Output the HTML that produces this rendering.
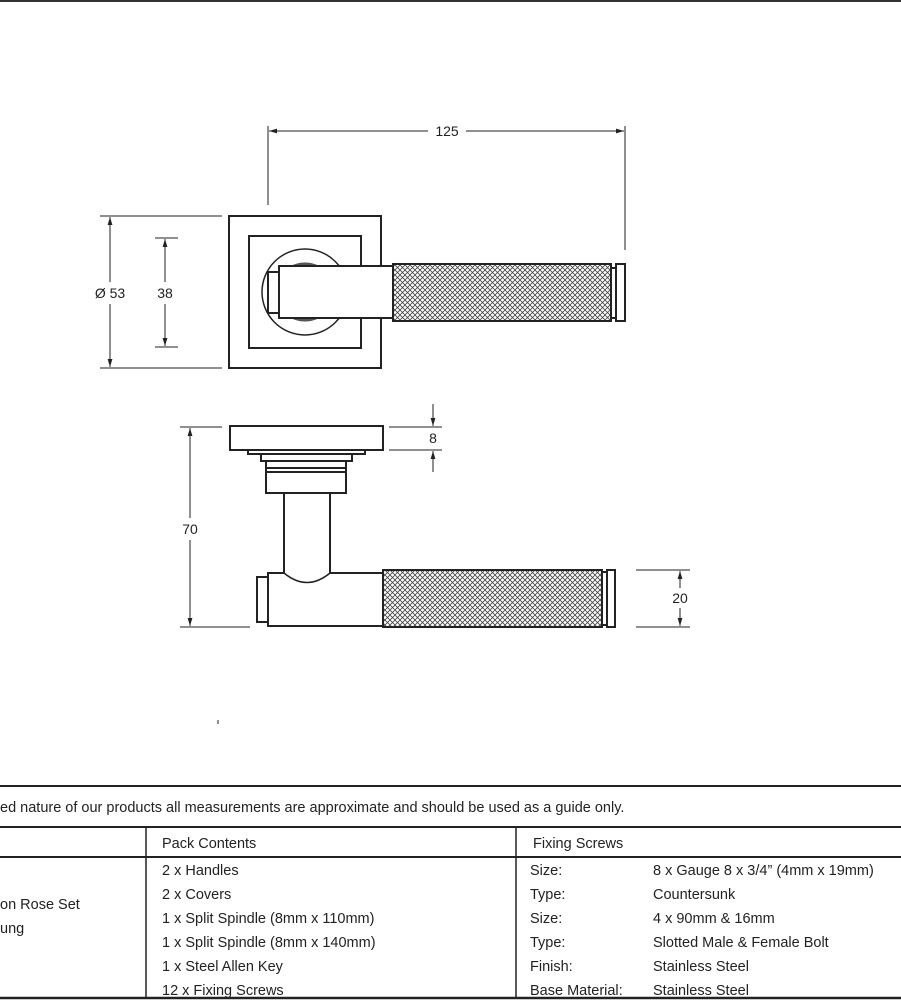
<!DOCTYPE html><html><head><style>body{margin:0;background:#fff}svg{display:block}text{font-family:"Liberation Sans",sans-serif;fill:#222}</style></head><body>
<svg width="901" height="1001" viewBox="0 0 901 1001" xmlns="http://www.w3.org/2000/svg">
<defs>
<pattern id="k" width="5" height="5" patternUnits="userSpaceOnUse"><rect width="5" height="5" fill="#fff"/><path d="M0 0L5 5M5 0L0 5" stroke="#444" stroke-width="0.8"/></pattern>
<marker id="a" viewBox="0 0 10 10" refX="10" refY="5" markerWidth="8" markerHeight="8" orient="auto-start-reverse"><path d="M0 2L10 5L0 8z" fill="#222"/></marker>
</defs>
<rect x="0" y="0" width="901" height="2" fill="#333"/>
<g fill="none" stroke="#222" stroke-width="2">
<rect x="229" y="216" width="152" height="152"/>
<rect x="249" y="236" width="112" height="112"/>
<circle cx="305" cy="292" r="43" stroke-width="1.5"/>
<circle cx="305" cy="292" r="28" stroke-width="3" stroke="#555"/>
<rect x="268" y="272" width="11" height="41" fill="#fff"/>
<rect x="279" y="266" width="114" height="52" fill="#fff"/>
<rect x="393" y="264" width="218" height="57" fill="url(#k)"/>
<rect x="611" y="268" width="5" height="50" fill="#fff"/>
<rect x="616" y="264" width="9" height="57" fill="#fff"/>
<rect x="230" y="426" width="153" height="24"/>
<rect x="248" y="450" width="117" height="4"/>
<rect x="261" y="454" width="91" height="7"/>
<rect x="266" y="461" width="80" height="32"/>
<line x1="266" y1="468" x2="346" y2="468"/><line x1="266" y1="472" x2="346" y2="472"/>
<rect x="257" y="577" width="11" height="45" fill="#fff"/>
<path d="M268 573H284V493H330V573H383V626H268Z" fill="#fff"/>
<path d="M284 573Q307 592 330 573" stroke-width="1.5"/>
<rect x="383" y="570" width="219" height="57" fill="url(#k)"/>
<rect x="602" y="572" width="5" height="53" fill="#fff"/>
<rect x="607" y="570" width="8" height="57" fill="#fff"/>
</g>
<g stroke="#222" stroke-width="1" fill="none">
<line x1="268" y1="126" x2="268" y2="205"/><line x1="625" y1="126" x2="625" y2="250"/>
<line x1="269" y1="131" x2="428" y2="131" marker-start="url(#a)"/><line x1="466" y1="131" x2="624" y2="131" marker-end="url(#a)"/>
<line x1="100" y1="216" x2="222" y2="216"/><line x1="100" y1="368" x2="222" y2="368"/>
<line x1="110" y1="217" x2="110" y2="282" marker-start="url(#a)"/><line x1="110" y1="304" x2="110" y2="367" marker-end="url(#a)"/>
<line x1="155" y1="238" x2="178" y2="238"/><line x1="155" y1="347" x2="178" y2="347"/>
<line x1="165" y1="239" x2="165" y2="282" marker-start="url(#a)"/><line x1="165" y1="304" x2="165" y2="346" marker-end="url(#a)"/>
<line x1="180" y1="427" x2="222" y2="427"/><line x1="180" y1="627" x2="250" y2="627"/>
<line x1="190" y1="428" x2="190" y2="518" marker-start="url(#a)"/><line x1="190" y1="540" x2="190" y2="626" marker-end="url(#a)"/>
<line x1="389" y1="427" x2="442" y2="427"/><line x1="389" y1="450" x2="442" y2="450"/>
<line x1="433" y1="404" x2="433" y2="426" marker-end="url(#a)"/><line x1="433" y1="472" x2="433" y2="451" marker-end="url(#a)"/>
<line x1="636" y1="570" x2="690" y2="570"/><line x1="636" y1="627" x2="690" y2="627"/>
<line x1="680" y1="571" x2="680" y2="588" marker-start="url(#a)"/><line x1="680" y1="608" x2="680" y2="626" marker-end="url(#a)"/>
<line x1="218" y1="720" x2="218" y2="724"/>
</g>
<g font-size="14">
<text x="447" y="136" text-anchor="middle">125</text>
<text x="110" y="298" text-anchor="middle">Ø 53</text>
<text x="165" y="298" text-anchor="middle">38</text>
<text x="190" y="534" text-anchor="middle">70</text>
<text x="433" y="443" text-anchor="middle">8</text>
<text x="680" y="603" text-anchor="middle">20</text>
</g>
<g stroke="#222" fill="none">
<line x1="0" y1="786" x2="901" y2="786" stroke-width="2"/>
<line x1="0" y1="827" x2="901" y2="827" stroke-width="2"/>
<line x1="0" y1="857" x2="901" y2="857" stroke-width="2"/>
<line x1="0" y1="998" x2="901" y2="998" stroke-width="2.5"/>
<line x1="146" y1="827" x2="146" y2="998" stroke-width="1.5"/>
<line x1="516" y1="827" x2="516" y2="998" stroke-width="1.5"/>
</g>
<g font-size="14.5">
<text x="0" y="812">ed nature of our products all measurements are approximate and should be used as a guide only.</text>
<text x="162" y="848">Pack Contents</text>
<text x="533" y="848">Fixing Screws</text>
<text x="0" y="909">on Rose Set</text>
<text x="0" y="933">ung</text>
<text x="162" y="875">2 x Handles</text>
<text x="162" y="899">2 x Covers</text>
<text x="162" y="923">1 x Split Spindle (8mm x 110mm)</text>
<text x="162" y="947">1 x Split Spindle (8mm x 140mm)</text>
<text x="162" y="971">1 x Steel Allen Key</text>
<text x="162" y="995">12 x Fixing Screws</text>
<text x="530" y="875">Size:</text><text x="653" y="875">8 x Gauge 8 x 3/4” (4mm x 19mm)</text>
<text x="530" y="899">Type:</text><text x="653" y="899">Countersunk</text>
<text x="530" y="923">Size:</text><text x="653" y="923">4 x 90mm &amp; 16mm</text>
<text x="530" y="947">Type:</text><text x="653" y="947">Slotted Male &amp; Female Bolt</text>
<text x="530" y="971">Finish:</text><text x="653" y="971">Stainless Steel</text>
<text x="530" y="995">Base Material:</text><text x="653" y="995">Stainless Steel</text>
</g>
</svg>
</body></html>
